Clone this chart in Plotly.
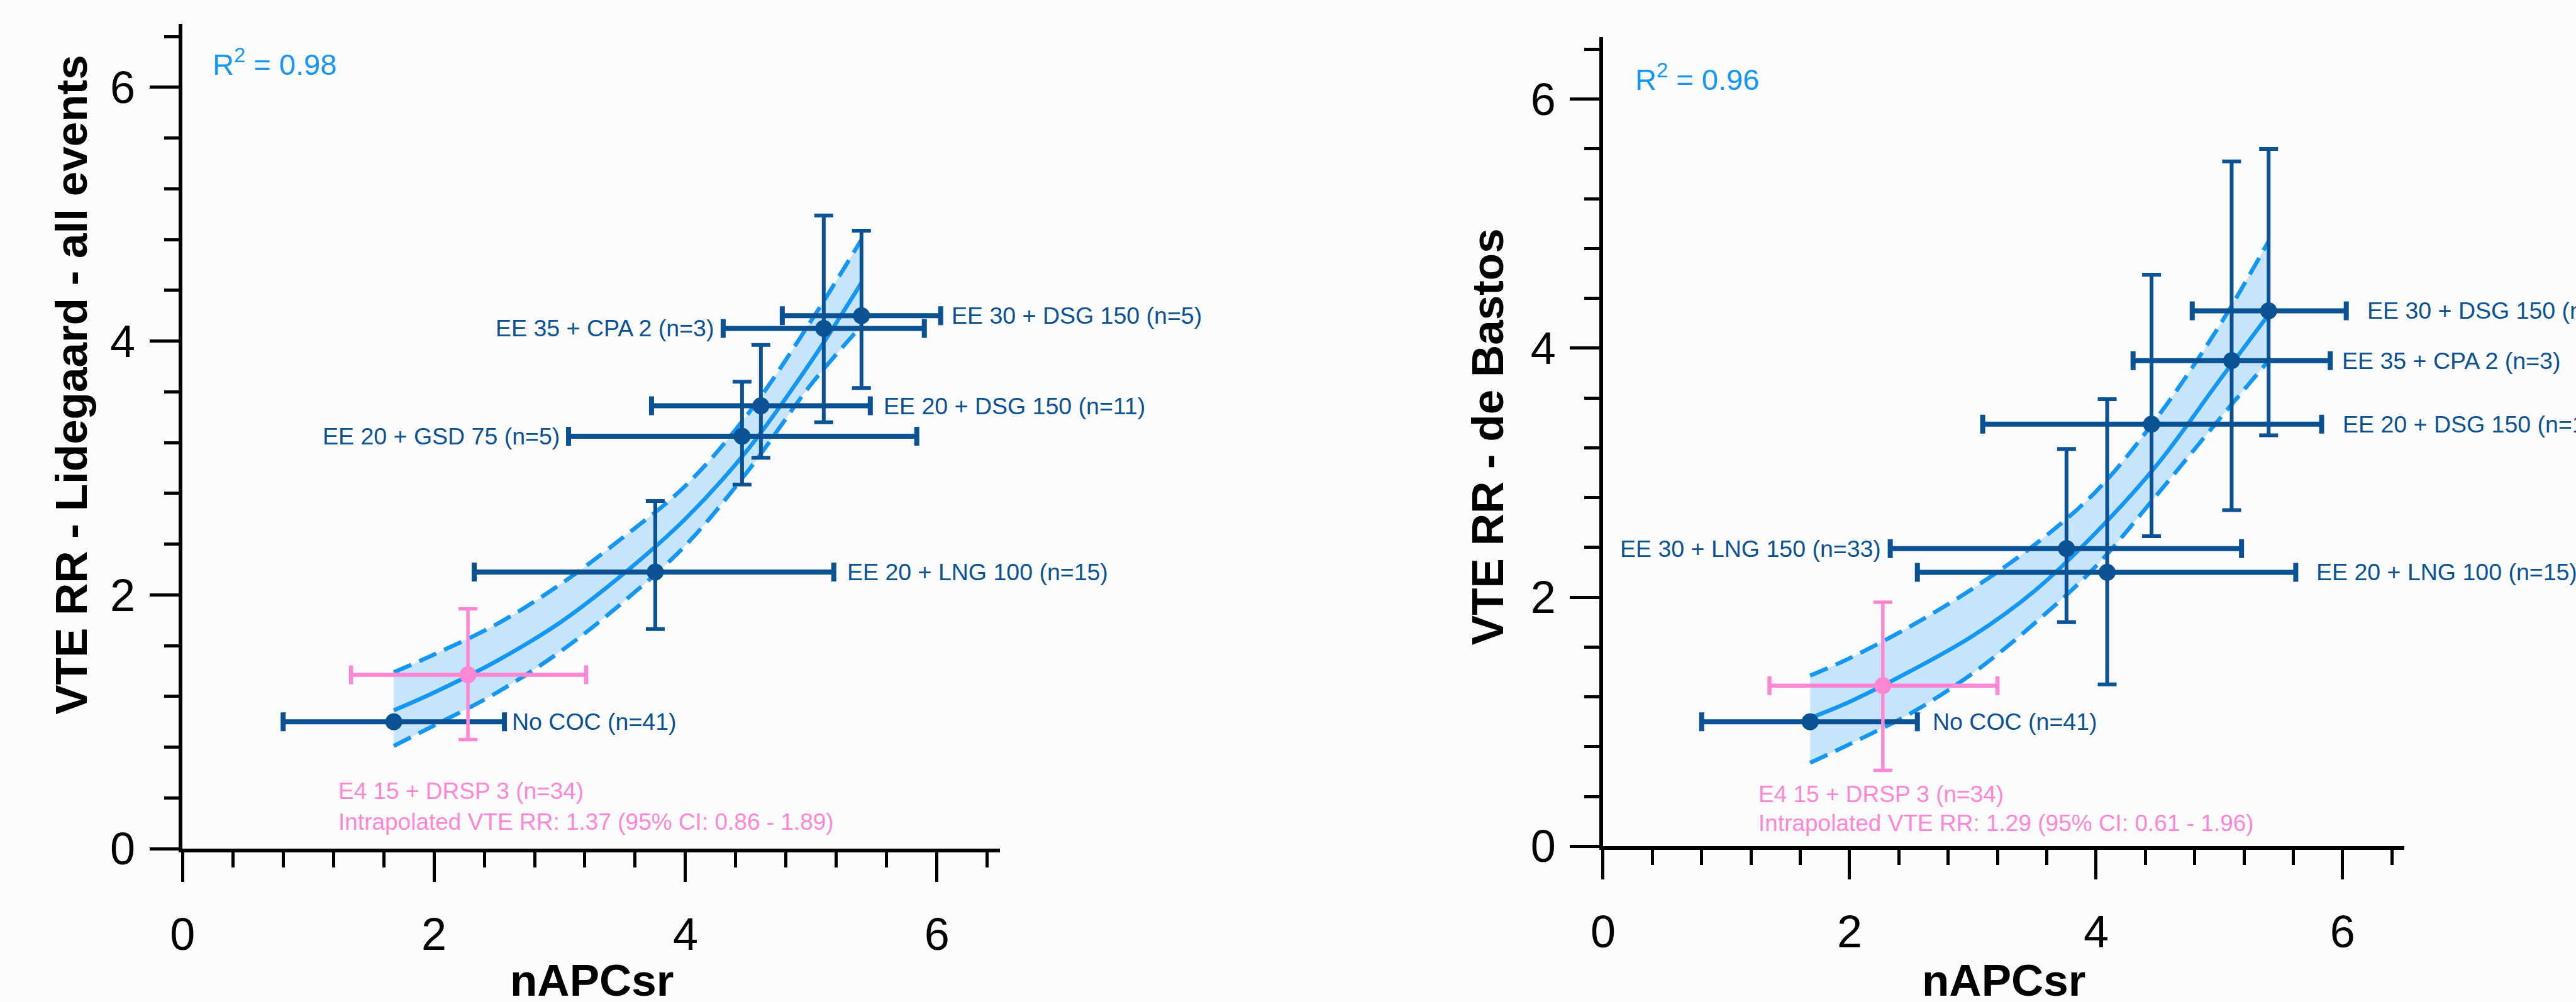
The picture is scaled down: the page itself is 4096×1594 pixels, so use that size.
import math
import plotly.graph_objects as go

# ---------------- data ----------------
fit_x = [1.68, 2.0, 2.5, 3.0, 3.5, 4.0, 4.5, 5.0, 5.4]

# Left panel: Lidegaard - all events
lid_labels = ["No COC (n=41)", "EE 20 + LNG 100 (n=15)", "EE 20 + GSD 75 (n=5)",
              "EE 20 + DSG 150 (n=11)", "EE 35 + CPA 2 (n=3)", "EE 30 + DSG 150 (n=5)"]
lid_x = [1.68, 3.76, 4.45, 4.60, 5.10, 5.40]
lid_x_lo = [0.80, 2.32, 3.07, 3.73, 4.30, 4.77]
lid_x_hi = [2.56, 5.18, 5.84, 5.47, 5.90, 6.03]
lid_y = [1.00, 2.18, 3.25, 3.49, 4.10, 4.20]
lid_y_lo = [None, 1.73, 2.87, 3.08, 3.36, 3.63]
lid_y_hi = [None, 2.74, 3.68, 3.97, 4.99, 4.87]
lid_fit = [1.09, 1.23, 1.48, 1.78, 2.16, 2.60, 3.15, 3.84, 4.46]
lid_upper = [1.39, 1.53, 1.77, 2.08, 2.45, 2.86, 3.43, 4.16, 4.80]
lid_lower = [0.81, 0.97, 1.23, 1.55, 1.94, 2.39, 2.98, 3.66, 4.12]
lid_e4 = dict(x=2.27, x_lo=1.34, x_hi=3.21, y=1.37, y_lo=0.86, y_hi=1.89)
lid_r2 = "0.98"
lid_e4_text = ["E4 15 + DRSP 3 (n=34)", "Intrapolated VTE RR: 1.37 (95% CI: 0.86 - 1.89)"]

# Right panel: de Bastos
deb_labels = ["No COC (n=41)", "EE 30 + LNG 150 (n=33)", "EE 20 + LNG 100 (n=15)",
              "EE 20 + DSG 150 (n=11)", "EE 35 + CPA 2 (n=3)", "EE 30 + DSG 150 (n=5)"]
deb_x = [1.68, 3.76, 4.09, 4.45, 5.10, 5.40]
deb_x_lo = [0.80, 2.33, 2.55, 3.08, 4.30, 4.78]
deb_x_hi = [2.55, 5.18, 5.62, 5.83, 5.90, 6.03]
deb_y = [1.00, 2.39, 2.20, 3.39, 3.90, 4.30]
deb_y_lo = [None, 1.80, 1.30, 2.49, 2.70, 3.30]
deb_y_hi = [None, 3.19, 3.59, 4.59, 5.50, 5.60]
deb_fit = [1.03, 1.16, 1.41, 1.69, 2.05, 2.52, 3.07, 3.74, 4.27]
deb_upper = [1.37, 1.51, 1.77, 2.07, 2.42, 2.85, 3.45, 4.18, 4.86]
deb_lower = [0.67, 0.82, 1.07, 1.39, 1.79, 2.25, 2.83, 3.43, 3.90]
deb_e4 = dict(x=2.27, x_lo=1.35, x_hi=3.20, y=1.29, y_lo=0.61, y_hi=1.96)
deb_r2 = "0.96"
deb_e4_text = ["E4 15 + DRSP 3 (n=34)", "Intrapolated VTE RR: 1.29 (95% CI: 0.61 - 1.96)"]

x_ticks = [0, 2, 4, 6]
y_ticks = [0, 2, 4, 6]

# ---------------- styles ----------------
FONT = "Liberation Sans, Arial, Helvetica, sans-serif"
DARK = "#0A5293"
FITC = "#1496F5"
BAND = "rgba(198,228,250,1)"
PINK = "#FF86D4"
BG = "#FCFCFC"
LABEL_SIZE = 37.5
PINK_SIZE = 37

# label side ('l' = left of low end, 'r' = right of high end) and gap in px
lid_label_style = [("r", 10), ("r", 19), ("l", 12), ("r", 19), ("l", 13), ("r", 15)]
deb_label_style = [("r", 22), ("l", 13), ("r", 31), ("r", 31), ("r", 17), ("r", 31)]


def diff(a, b):
    return [float("nan") if (p is None or q is None) else p - q for p, q in zip(a, b)]


fig = go.Figure()


def add_panel(xa, ya, xs, xlo, xhi, ys, ylo, yhi, fit, up, lo, e4):
    # confidence band
    fig.add_trace(go.Scatter(x=fit_x, y=lo, mode="lines", xaxis=xa, yaxis=ya,
                             line=dict(color=FITC, width=6.5, dash="30px,14px", shape="spline"),
                             hoverinfo="skip", showlegend=False))
    fig.add_trace(go.Scatter(x=fit_x, y=up, mode="lines", xaxis=xa, yaxis=ya,
                             line=dict(color=FITC, width=6.5, dash="30px,14px", shape="spline"),
                             fill="tonexty", fillcolor=BAND,
                             hoverinfo="skip", showlegend=False))
    fig.add_trace(go.Scatter(x=fit_x, y=fit, mode="lines", xaxis=xa, yaxis=ya,
                             line=dict(color=FITC, width=6.5, shape="spline"),
                             hoverinfo="skip", showlegend=False))
    # data points
    fig.add_trace(go.Scatter(
        x=xs, y=ys, mode="markers", xaxis=xa, yaxis=ya,
        marker=dict(color=DARK, size=27),
        error_x=dict(type="data", symmetric=False, array=diff(xhi, xs), arrayminus=diff(xs, xlo),
                     color=DARK, thickness=8, width=15),
        error_y=dict(type="data", symmetric=False, array=diff(yhi, ys), arrayminus=diff(ys, ylo),
                     color=DARK, thickness=6, width=15),
        showlegend=False))
    # E4 point
    fig.add_trace(go.Scatter(
        x=[e4["x"]], y=[e4["y"]], mode="markers", xaxis=xa, yaxis=ya,
        marker=dict(color=PINK, size=27),
        error_x=dict(type="data", symmetric=False, array=[e4["x_hi"] - e4["x"]],
                     arrayminus=[e4["x"] - e4["x_lo"]], color=PINK, thickness=6.5, width=15),
        error_y=dict(type="data", symmetric=False, array=[e4["y_hi"] - e4["y"]],
                     arrayminus=[e4["y"] - e4["y_lo"]], color=PINK, thickness=5.5, width=15),
        showlegend=False))


add_panel("x", "y", lid_x, lid_x_lo, lid_x_hi, lid_y, lid_y_lo, lid_y_hi,
          lid_fit, lid_upper, lid_lower, lid_e4)
add_panel("x2", "y2", deb_x, deb_x_lo, deb_x_hi, deb_y, deb_y_lo, deb_y_hi,
          deb_fit, deb_upper, deb_lower, deb_e4)

annotations = []


def add_labels(xref, yref, labels, xlo, xhi, ys, styles):
    for lab, a, b, y, (side, gap) in zip(labels, xlo, xhi, ys, styles):
        if side == "r":
            annotations.append(dict(x=b, y=y, xref=xref, yref=yref, text=lab, showarrow=False,
                                    xanchor="left", yanchor="middle", xshift=gap,
                                    font=dict(family=FONT, size=LABEL_SIZE, color=DARK)))
        else:
            annotations.append(dict(x=a, y=y, xref=xref, yref=yref, text=lab, showarrow=False,
                                    xanchor="right", yanchor="middle", xshift=-gap,
                                    font=dict(family=FONT, size=LABEL_SIZE, color=DARK)))


add_labels("x", "y", lid_labels, lid_x_lo, lid_x_hi, lid_y, lid_label_style)
add_labels("x2", "y2", deb_labels, deb_x_lo, deb_x_hi, deb_y, deb_label_style)

# E4 text blocks
for xref, yref, xpos, ypos, txt in [("x", "y", 1.23, (0.456, 0.209), lid_e4_text),
                                     ("x2", "y2", 1.25, (0.42, 0.185), deb_e4_text)]:
    for yy, t in zip(ypos, txt):
        annotations.append(dict(x=xpos, y=yy, xref=xref, yref=yref, text=t, showarrow=False,
                                xanchor="left", yanchor="middle",
                                font=dict(family=FONT, size=PINK_SIZE, color=PINK)))

# R^2
for xp, yp, r2 in [(318, 101.6, lid_r2), (2591, 126, deb_r2)]:
    annotations.append(dict(x=xp / 4096, y=1 - yp / 1594, xref="paper", yref="paper",
                            text="R<sup>2</sup> = " + r2, showarrow=False,
                            xanchor="left", yanchor="middle",
                            font=dict(family=FONT, size=47, color=FITC)))

# axis titles
for xp, yp, t, ang in [(94, 628, "VTE RR - Lidegaard - all events", -90),
                       (2356.5, 712, "VTE RR - de Bastos", -90),
                       (926, 1600, "nAPCsr", 0),
                       (3182, 1600, "nAPCsr", 0)]:
    annotations.append(dict(x=xp / 4096, y=1 - yp / 1594, xref="paper", yref="paper",
                            text="<b>" + t + "</b>", showarrow=False, textangle=ang,
                            xanchor="center", yanchor="middle",
                            font=dict(family=FONT, size=71, color="black")))


def axis(domain, anchor):
    return dict(domain=domain, anchor=anchor, range=[0, 6.5], autorange=False,
                showline=True, linewidth=5.5, linecolor="black", showgrid=False, zeroline=False,
                ticks="outside", ticklen=47, tickwidth=5.2, tickcolor="black",
                tickmode="array", tickvals=x_ticks, ticktext=[str(v) for v in x_ticks],
                tickfont=dict(family=FONT, size=72, color="black"),
                minor=dict(ticks="outside", dtick=0.4, tick0=0, ticklen=24, tickwidth=5.2,
                           tickcolor="black", showgrid=False),
                fixedrange=True)


xa1 = axis([271.6 / 4096, 1577.4 / 4096], "y")
ya1 = axis([209.2 / 1594, 1555.0 / 1594], "x")
xa2 = axis([2541.4 / 4096, 3821.5 / 4096], "y2")
ya2 = axis([213.1 / 1594, 1533.8 / 1594], "x2")
ya1["tickvals"] = y_ticks
ya2["tickvals"] = y_ticks
ya1["ticktext"] = [str(v) for v in y_ticks]
ya2["ticktext"] = [str(v) for v in y_ticks]
ya1["ticklabelstandoff"] = 8
ya2["ticklabelstandoff"] = 8
xa1["ticklabelstandoff"] = 22
xa2["ticklabelstandoff"] = 22

fig.update_layout(
    width=4096, height=1594, autosize=False,
    margin=dict(l=0, r=0, t=0, b=0, pad=0),
    paper_bgcolor=BG, plot_bgcolor=BG,
    showlegend=False,
    xaxis=xa1, yaxis=ya1, xaxis2=xa2, yaxis2=ya2,
    annotations=annotations,
)

fig.write_html("out.html", config={"displayModeBar": False},
               post_script="document.body.style.margin='0';document.body.style.overflow='hidden';")
